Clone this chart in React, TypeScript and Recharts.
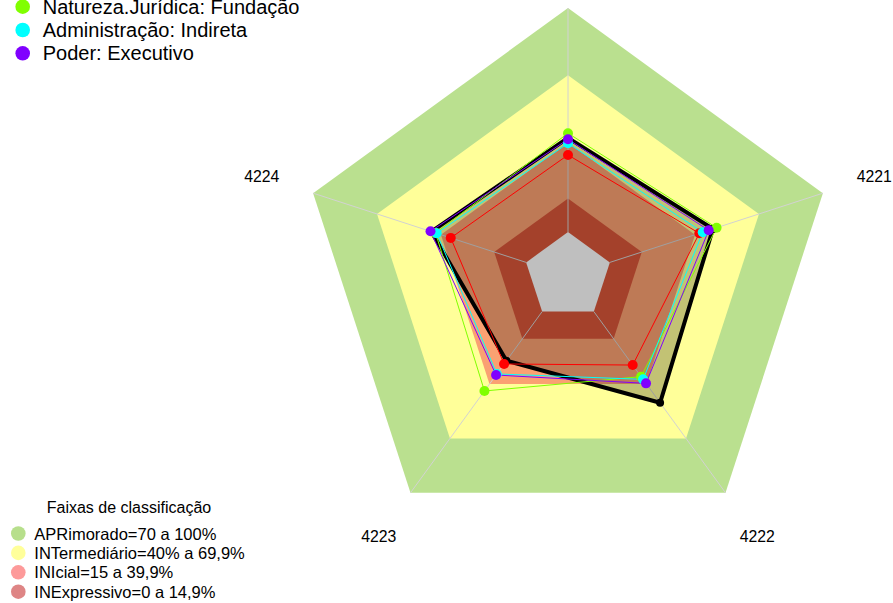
import React from "react";
import { RadarChart, Radar, PolarGrid, PolarAngleAxis, PolarRadiusAxis } from "recharts";

// ---- data ----
const AXES = ["4220", "4221", "4222", "4223", "4224"];
const BLACK = [42, 48.4, 50.3, 27.1, 44.5];
const RED = [34.4, 42, 29.5, 28.9, 35.4];
const GREEN = [44.1, 50.1, 35.9, 43.8, 42.5];
const CYAN = [39.6, 43.6, 37.4, 34.4, 42];
const PURPLE = [41.4, 46.4, 39.6, 35, 44.9];

const SERIES_KEYS = ["black", "red", "green", "cyan", "purple"];
const SERIES_VALUES = [BLACK, RED, GREEN, CYAN, PURPLE];
const SERIES_COLORS = ["#000000", "#FF0000", "#80FF00", "#00FFFF", "#8000FF"];

const LEGEND_LABELS = ["Natureza.Jurídica: Fundação", "Administração: Indireta", "Poder: Executivo"];
const LEGEND_COLORS = ["#80FF00", "#00FFFF", "#8000FF"];

const BAND_LIMITS = [100, 70, 40, 15, 0];
const BAND_FILLS = ["#BAE08F", "#FFFF99", "#FAA172", "#D85639", "#FBFBFB"];

const CLASS_TITLE = "Faixas de classificação";
const CLASS_LABELS = [
  "APRimorado=70 a 100%",
  "INTermediário=40% a 69,9%",
  "INIcial=15 a 39,9%",
  "INExpressivo=0 a 14,9%",
];
const CLASS_COLORS = ["#B7DF8C", "#FFFF9A", "#FD9A9A", "#DE8585"];

// ---- layout ----
const W = 893;
const H = 603;
const CX = 568;
const CY = 276;
const R_IN = 44;
const R_OUT = 268;
const LABEL_R = 322;
const FONT = "'Liberation Sans', Arial, sans-serif";

const data = AXES.map((axis, i) => {
  const row: Record<string, any> = { axis };
  SERIES_KEYS.forEach((k, j) => (row[k] = SERIES_VALUES[j][i]));
  BAND_LIMITS.forEach((b) => (row["b" + b] = b));
  return row;
});

function AngleTick(props: any) {
  const { x, y, payload } = props;
  const dx = x - CX;
  const dy = y - CY;
  const d = Math.hypot(dx, dy) || 1;
  const lx = CX + (dx / d) * LABEL_R;
  const ly = CY + (dy / d) * LABEL_R;
  // the label of the top axis lies outside the picture, as in the reference
  if (ly < 0) return <g />;
  return (
    <text x={lx} y={ly} textAnchor="middle" dominantBaseline="central" fontFamily={FONT} fontSize={15.8} fill="#000">
      {payload.value}
    </text>
  );
}

const chartProps = {
  width: W,
  height: H,
  data,
  cx: CX,
  cy: CY,
  innerRadius: R_IN,
  outerRadius: R_OUT,
  margin: { top: 0, right: 0, bottom: 0, left: 0 },
};

export default function App() {
  return (
    <div style={{ position: "absolute", left: 0, top: 0, width: W, height: H, overflow: "hidden", background: "#fff" }}>
      {/* classification bands */}
      <div style={{ position: "absolute", left: 0, top: 0 }}>
        <RadarChart {...chartProps}>
          <PolarAngleAxis dataKey="axis" tick={false} axisLine={false} tickLine={false} />
          <PolarRadiusAxis domain={[0, 100]} tick={false} axisLine={false} tickLine={false} />
          {BAND_LIMITS.map((b, i) => (
            <Radar
              key={b}
              dataKey={"b" + b}
              stroke="none"
              fill={BAND_FILLS[i]}
              fillOpacity={1}
              dot={false}
              isAnimationActive={false}
            />
          ))}
        </RadarChart>
      </div>
      {/* grid + data */}
      <div style={{ position: "absolute", left: 0, top: 0 }}>
        <RadarChart {...chartProps}>
          <PolarGrid gridType="polygon" polarRadius={[]} stroke="#D2D2D2" strokeWidth={1} />
          <PolarAngleAxis dataKey="axis" tick={<AngleTick />} axisLine={false} tickLine={false} />
          <PolarRadiusAxis domain={[0, 100]} tick={false} axisLine={false} tickLine={false} />
          {SERIES_KEYS.map((k, i) => {
            const isBlack = k === "black";
            return (
              <Radar
                key={k}
                dataKey={k}
                stroke={SERIES_COLORS[i]}
                strokeWidth={isBlack ? 4 : 1}
                fill={isBlack ? "#000" : "none"}
                fillOpacity={isBlack ? 0.24 : 0}
                dot={{ r: isBlack ? 4 : 5, fill: SERIES_COLORS[i], fillOpacity: 1, stroke: "none" }}
                isAnimationActive={false}
              />
            );
          })}
        </RadarChart>
      </div>
      {/* legends */}
      <svg width={W} height={H} style={{ position: "absolute", left: 0, top: 0 }}>
        {LEGEND_LABELS.map((t, i) => {
          const cy = 6.7 + i * 23.3;
          return (
            <g key={t}>
              <circle cx={22.7} cy={cy} r={7.3} fill={LEGEND_COLORS[i]} />
              <text x={42.7} y={cy + 7} fontFamily={FONT} fontSize={20} fill="#000">
                {t}
              </text>
            </g>
          );
        })}
        <text x={129} y={512.7} textAnchor="middle" fontFamily={FONT} fontSize={16} fill="#000">
          {CLASS_TITLE}
        </text>
        {CLASS_LABELS.map((t, i) => {
          const cy = 533.5 + i * 19.4;
          return (
            <g key={t}>
              <circle cx={18.3} cy={cy} r={7.3} fill={CLASS_COLORS[i]} />
              <text x={34.3} y={cy + 6} fontFamily={FONT} fontSize={16.5} fill="#000">
                {t}
              </text>
            </g>
          );
        })}
      </svg>
    </div>
  );
}
